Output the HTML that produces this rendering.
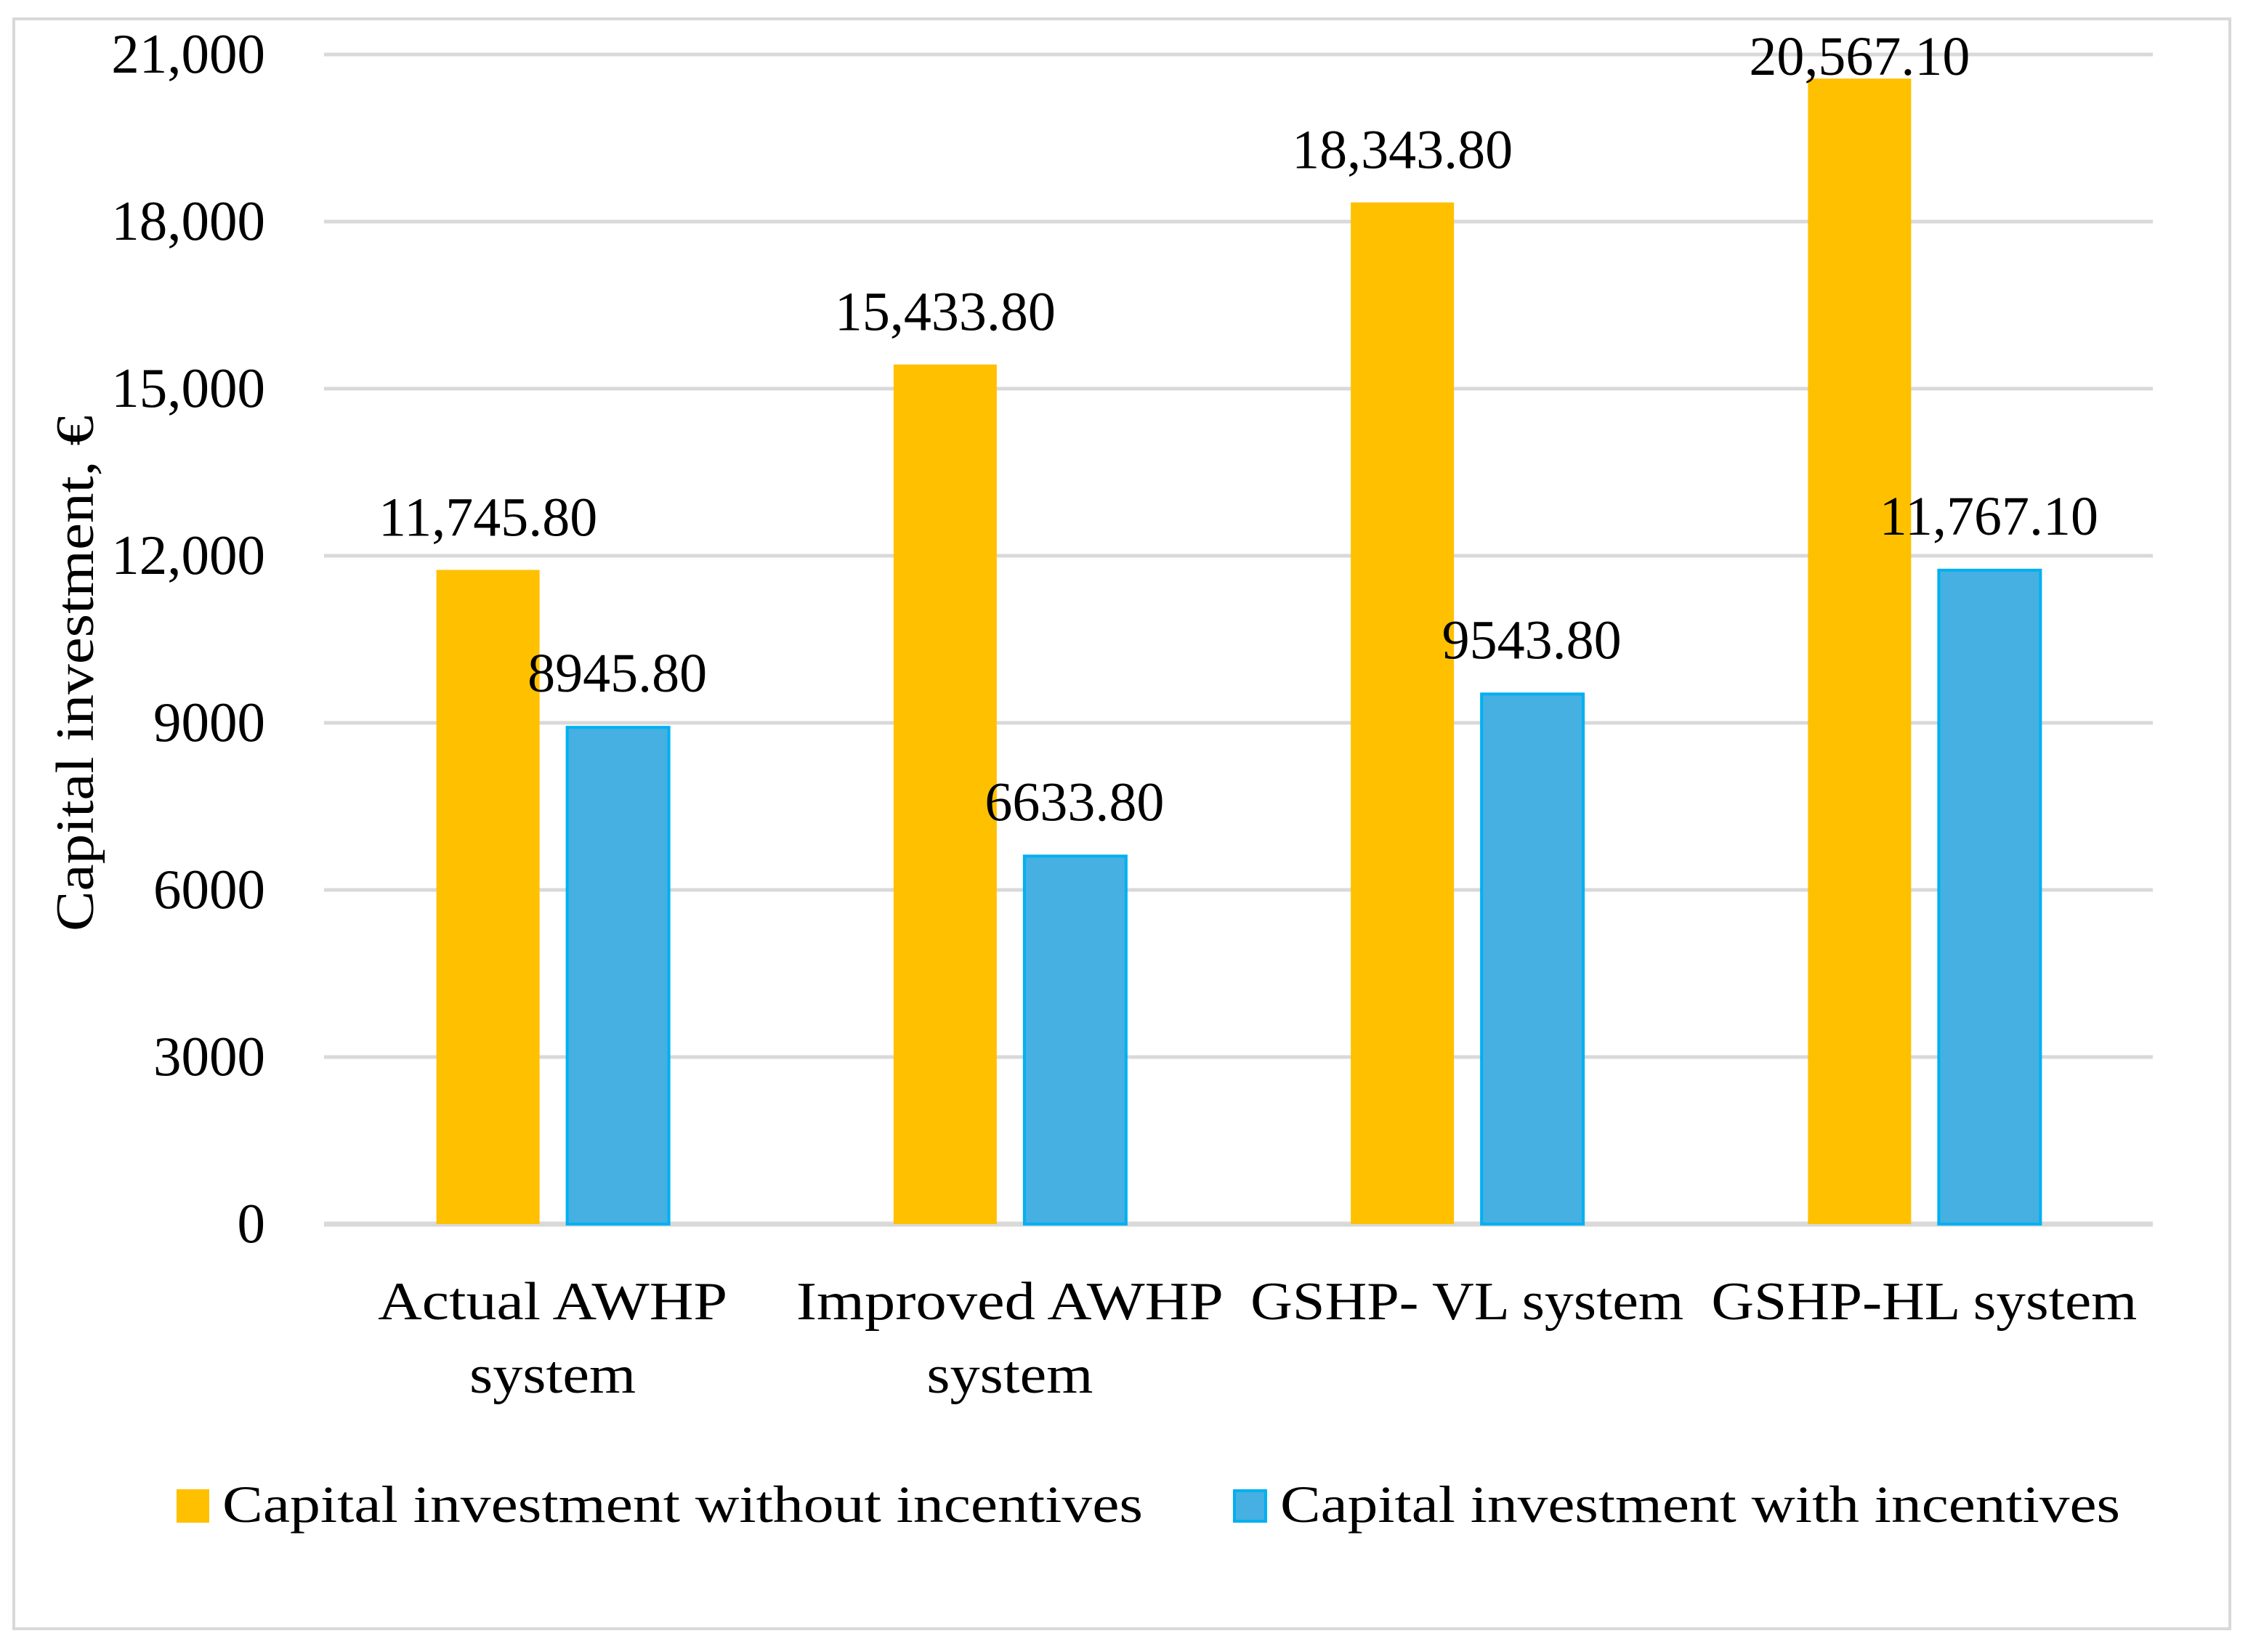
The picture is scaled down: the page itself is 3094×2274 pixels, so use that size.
<!DOCTYPE html>
<html><head><meta charset="utf-8"><style>
html,body{margin:0;padding:0;background:#fff;}
svg{display:block;font-family:"Liberation Serif",serif;}
</style></head><body>
<svg id="chart" width="3094" height="2274" viewBox="0 0 3094 2274" xmlns="http://www.w3.org/2000/svg">
<rect x="19" y="26" width="3050" height="2216" fill="#fff" stroke="#d9d9d9" stroke-width="4"/>
<g id="grid"></g><g id="bars"></g><g id="labels"></g>
<text transform="translate(128,927) rotate(-90)" text-anchor="middle" font-size="74" fill="#000" textLength="710" lengthAdjust="spacingAndGlyphs">Capital investment, €</text>
<g>
<rect x="243" y="2050" width="45" height="46" fill="#FFC000"/>
<text x="306" y="2095" font-size="72" textLength="1267" lengthAdjust="spacingAndGlyphs">Capital investment without incentives</text>
<rect x="1699" y="2052" width="43" height="42" fill="#45B0E1" stroke="#00B0F0" stroke-width="4"/>
<text x="1762" y="2095" font-size="72" textLength="1156" lengthAdjust="spacingAndGlyphs">Capital investment with incentives</text>
</g>
</svg>
<script>
const categories=[["Actual AWHP","system"],["Improved AWHP","system"],["GSHP- VL system"],["GSHP-HL system"]];
const withoutIncentives=[11745.8,15433.8,18343.8,20567.1];
const withIncentives=[8945.8,6633.8,9543.8,11767.1];
const withoutLabels=["11,745.80","15,433.80","18,343.80","20,567.10"];
const withLabels=["8945.80","6633.80","9543.80","11,767.10"];
const tickValues=[0,3000,6000,9000,12000,15000,18000,21000];
const tickLabels=["0","3000","6000","9000","12,000","15,000","18,000","21,000"];

const NS="http://www.w3.org/2000/svg";
const X0=446,X1=2963,Y0=1685,Y1=75,VMAX=21000;
const y=v=>Y0-(v/VMAX)*(Y0-Y1);
const band=(X1-X0)/categories.length;
const cx=i=>X0+band*(i+0.5);
const catWidth={"Actual AWHP":481,"Improved AWHP":588,"GSHP- VL system":596,"GSHP-HL system":586,"system":229};
function mk(tag,attrs,parent,txt){const e=document.createElementNS(NS,tag);for(const k in attrs)e.setAttribute(k,attrs[k]);if(txt!==undefined)e.textContent=txt;parent.appendChild(e);return e;}
const grid=document.getElementById('grid'),bars=document.getElementById('bars'),labels=document.getElementById('labels');
tickValues.forEach((v,i)=>{
  const l=mk('line',{x1:X0,x2:X1,y1:y(v),y2:y(v),stroke:'#d9d9d9','stroke-width':v===0?7:5},grid);
  
  
  const t=mk('text',{x:365,y:y(v)+25,'text-anchor':'end','font-size':77},grid,tickLabels[i]);
  
  
});
const BW=142,G=18;
categories.forEach((c,i)=>{
  const c0=cx(i);
  const yt=y(withoutIncentives[i]);
  const b1=mk('rect',{x:c0-G-BW,y:yt,width:BW,height:Y0-yt,fill:'#FFC000'},bars);
  
  
  const yb=y(withIncentives[i]);
  const b2=mk('rect',{x:c0+G+2,y:yb+2,width:BW-2,height:Y0-yb-2,fill:'#45B0E1',stroke:'#00B0F0','stroke-width':4},bars);
  
  
  const l1=mk('text',{x:c0-G-BW/2,y:Math.max(yt-47,103),'text-anchor':'middle','font-size':76},labels,withoutLabels[i]);
  
  
  const l2=mk('text',{x:c0+G+BW/2,y:Math.max(yb-47,103),'text-anchor':'middle','font-size':76},labels,withLabels[i]);
  
  
  c.forEach((line,j)=>{
    const t=mk('text',{x:c0,y:1816+j*101,'text-anchor':'middle','font-size':74,textLength:catWidth[line],lengthAdjust:'spacingAndGlyphs'},labels,line);
    
    
  });
});
</script>
</body></html>
